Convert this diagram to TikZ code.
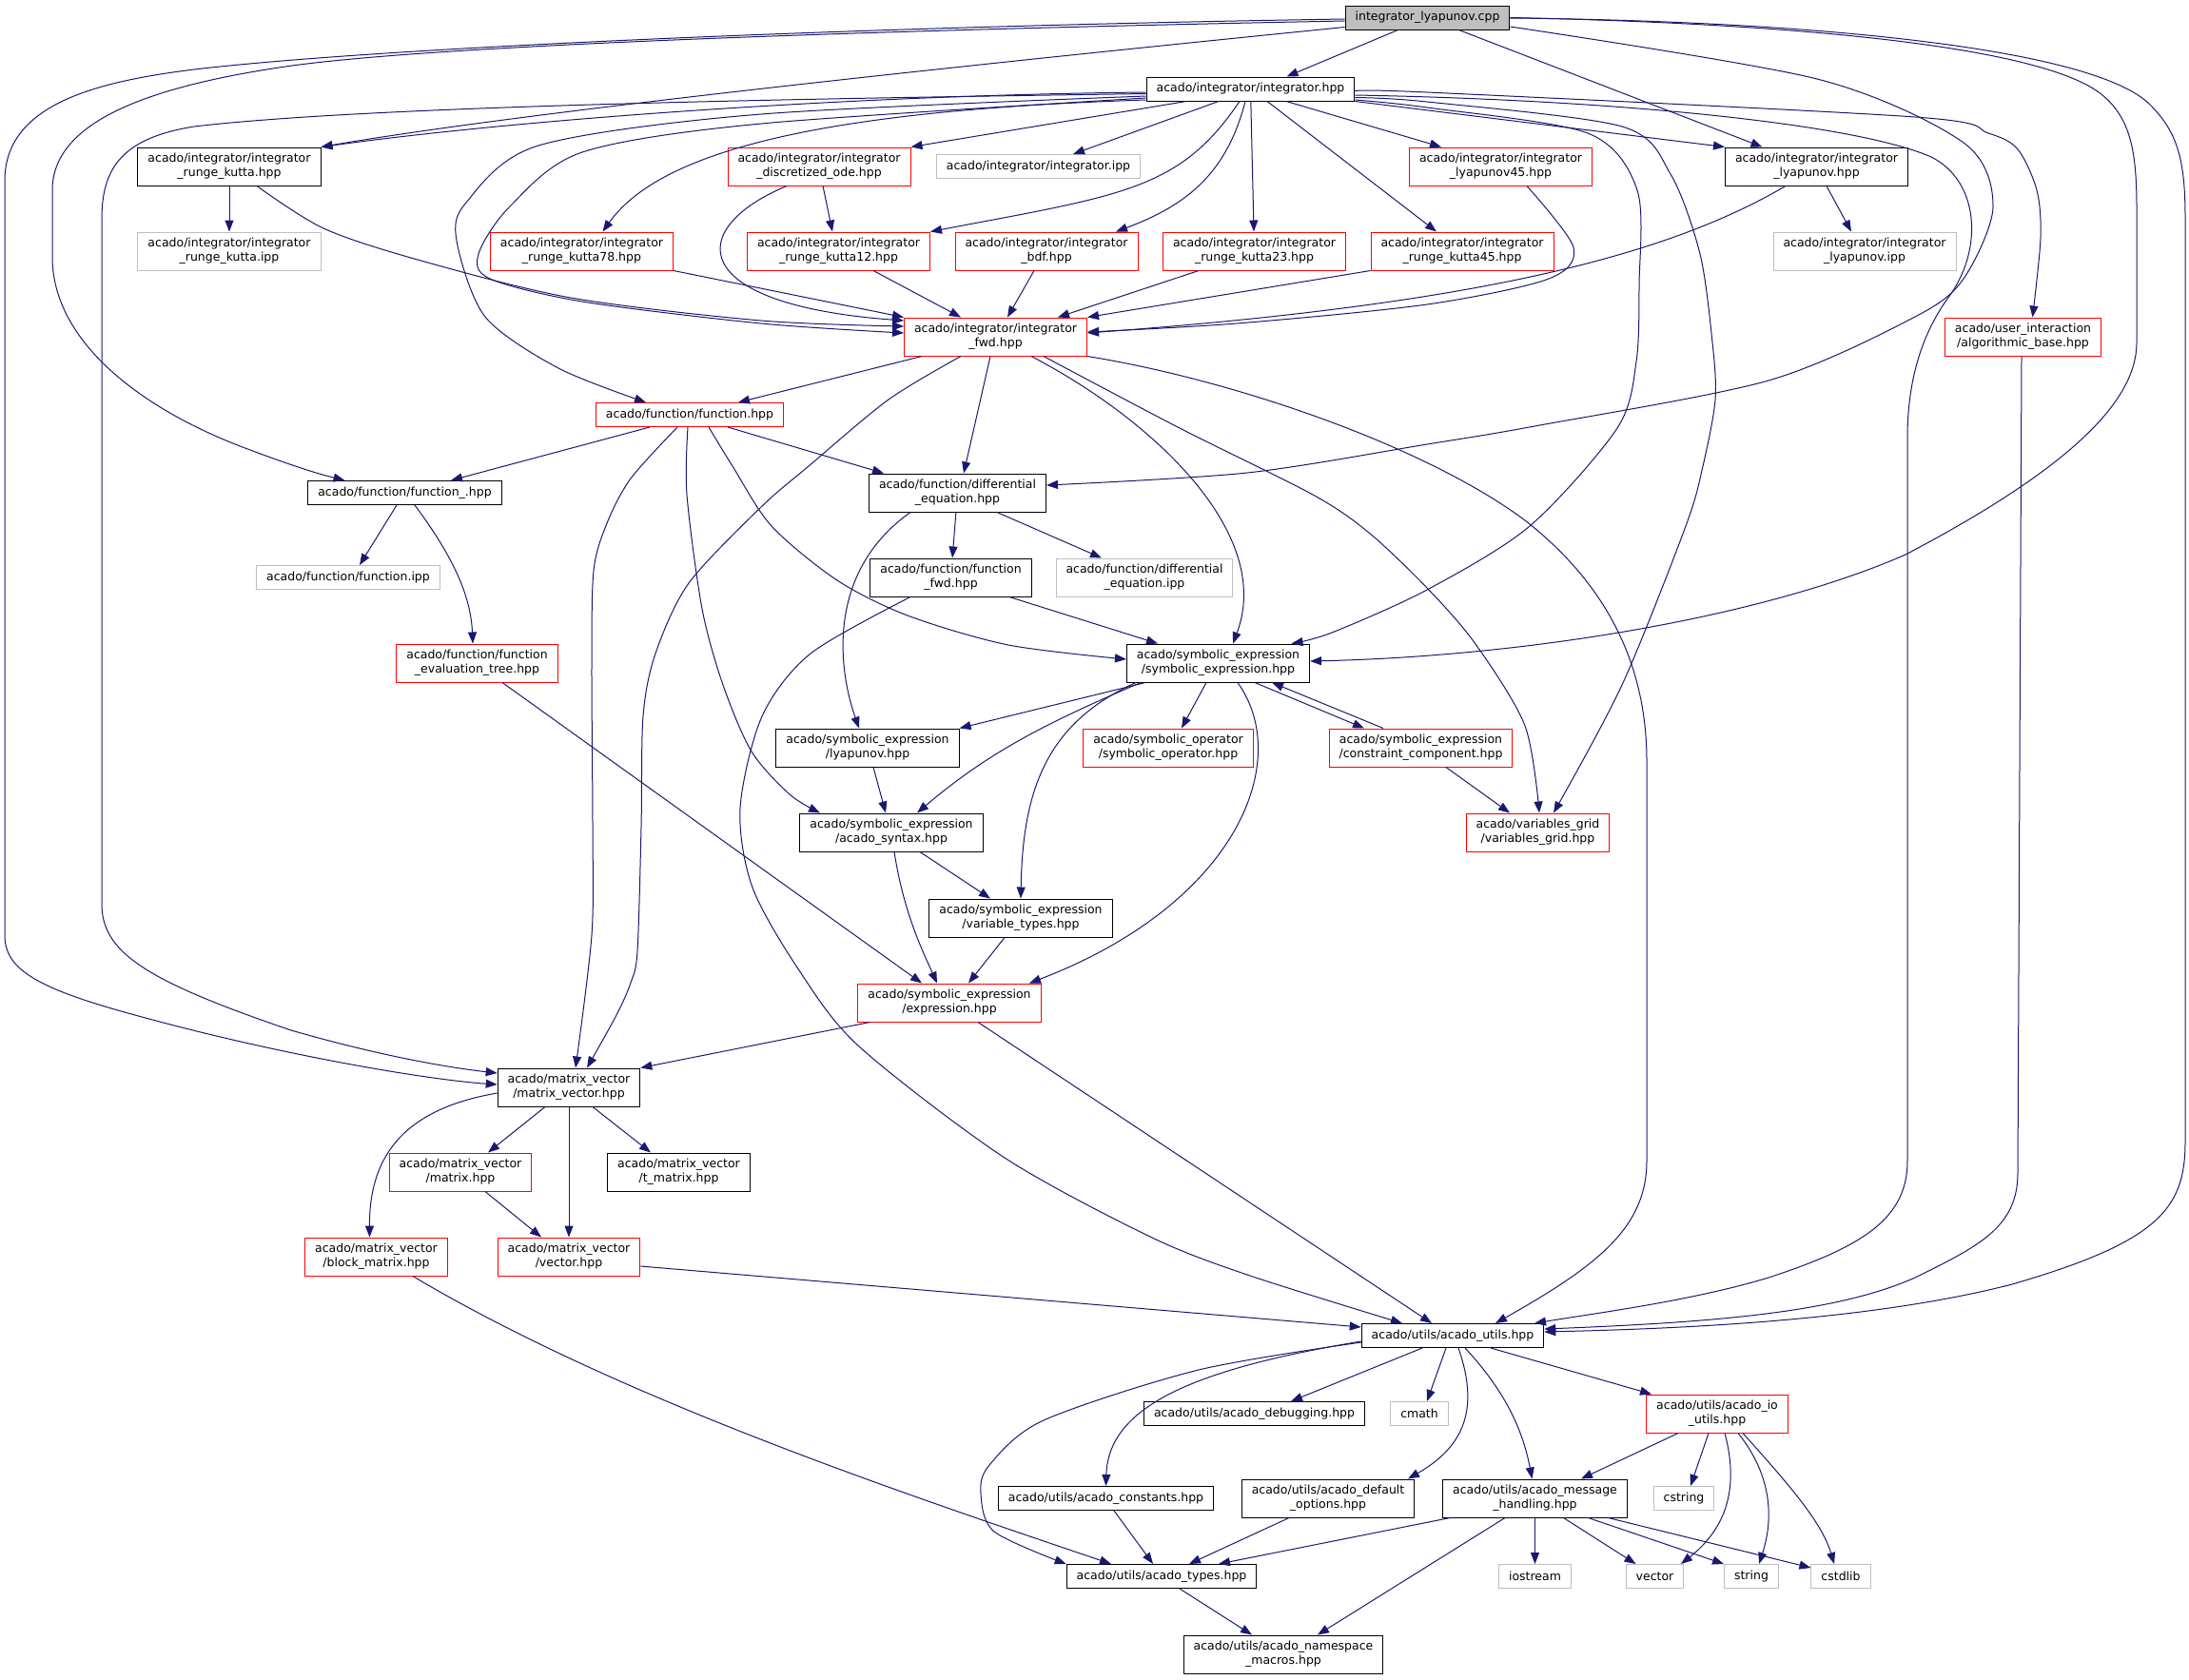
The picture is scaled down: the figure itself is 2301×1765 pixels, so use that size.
\documentclass[tikz,border=0pt]{standalone}
\usepackage{fontspec}
\setmainfont{DejaVu Sans}
\usetikzlibrary{arrows.meta}
\definecolor{edgeblue}{HTML}{191970}
\definecolor{graybox}{HTML}{BFBFBF}
\tikzset{
  box/.style={rectangle, draw, line width=1pt, align=center, font=\fontsize{12.5}{15}\selectfont, inner xsep=10.5pt, inner ysep=3pt, minimum height=25pt},
  two/.style={minimum height=40pt},
  hdr/.style={box, draw=black},
  trunc/.style={box, draw=red},
  ext/.style={box, draw=graybox},
  root/.style={box, draw=black, fill=graybox},
  dep/.style={draw=edgeblue, line width=1pt, -{Triangle[length=12pt,width=9pt]}}
}
\begin{document}
\begin{tikzpicture}[x=1pt,y=-1pt]
\useasboundingbox (0,0) rectangle (2301,1765);
% files
\node[root] (cpp) at (1500.5,18.5) {integrator\_lyapunov.cpp};
\node[hdr] (integ) at (1314.5,93.5) {acado/integrator/integrator.hpp};
\node[hdr,two] (rk) at (241,175) {acado/integrator/integrator\\\_runge\_kutta.hpp};
\node[trunc,two] (dode) at (861,175) {acado/integrator/integrator\\\_discretized\_ode.hpp};
\node[ext] (iipp) at (1091.5,175) {acado/integrator/integrator.ipp};
\node[trunc,two] (ly45) at (1577.5,175) {acado/integrator/integrator\\\_lyapunov45.hpp};
\node[hdr,two] (lyh) at (1909.5,175) {acado/integrator/integrator\\\_lyapunov.hpp};
\node[ext,two] (rkipp) at (241,264) {acado/integrator/integrator\\\_runge\_kutta.ipp};
\node[trunc,two] (rk78) at (611.5,264) {acado/integrator/integrator\\\_runge\_kutta78.hpp};
\node[trunc,two] (rk12) at (881.5,264) {acado/integrator/integrator\\\_runge\_kutta12.hpp};
\node[trunc,two] (bdf) at (1100,264) {acado/integrator/integrator\\\_bdf.hpp};
\node[trunc,two] (rk23) at (1318.5,264) {acado/integrator/integrator\\\_runge\_kutta23.hpp};
\node[trunc,two] (rk45) at (1537,264) {acado/integrator/integrator\\\_runge\_kutta45.hpp};
\node[ext,two] (lyipp) at (1960,264) {acado/integrator/integrator\\\_lyapunov.ipp};
\node[trunc,two] (ifwd) at (1046.5,354) {acado/integrator/integrator\\\_fwd.hpp};
\node[trunc,two] (algo) at (2126.5,354) {acado/user\_interaction\\/algorithmic\_base.hpp};
\node[trunc] (func) at (725,436) {acado/function/function.hpp};
\node[hdr] (funcu) at (425.5,518) {acado/function/function\_.hpp};
\node[hdr,two] (diffeq) at (1006.5,518) {acado/function/differential\\\_equation.hpp};
\node[ext] (fipp) at (366,607) {acado/function/function.ipp};
\node[hdr,two] (ffwd) at (999.5,607) {acado/function/function\\\_fwd.hpp};
\node[ext,two] (deipp) at (1203,607) {acado/function/differential\\\_equation.ipp};
\node[trunc,two] (fetree) at (501.5,697) {acado/function/function\\\_evaluation\_tree.hpp};
\node[hdr,two] (symexp) at (1280.5,697) {acado/symbolic\_expression\\/symbolic\_expression.hpp};
\node[hdr,two] (symly) at (912,786) {acado/symbolic\_expression\\/lyapunov.hpp};
\node[trunc,two] (symop) at (1228,786) {acado/symbolic\_operator\\/symbolic\_operator.hpp};
\node[trunc,two] (constr) at (1493.5,786) {acado/symbolic\_expression\\/constraint\_component.hpp};
\node[hdr,two] (syntax) at (937,875) {acado/symbolic\_expression\\/acado\_syntax.hpp};
\node[trunc,two] (vgrid) at (1616.5,875) {acado/variables\_grid\\/variables\_grid.hpp};
\node[hdr,two] (vartypes) at (1073,965) {acado/symbolic\_expression\\/variable\_types.hpp};
\node[trunc,two] (expr) at (998,1054) {acado/symbolic\_expression\\/expression.hpp};
\node[hdr,two] (mv) at (598,1143) {acado/matrix\_vector\\/matrix\_vector.hpp};
\node[trunc,two] (matrix) at (484,1232) {acado/matrix\_vector\\/matrix.hpp};
\node[hdr,two] (tmatrix) at (713.5,1232) {acado/matrix\_vector\\/t\_matrix.hpp};
\node[trunc,two] (block) at (395.5,1321) {acado/matrix\_vector\\/block\_matrix.hpp};
\node[trunc,two] (vector) at (598,1321) {acado/matrix\_vector\\/vector.hpp};
\node[hdr] (utils) at (1527,1404) {acado/utils/acado\_utils.hpp};
\node[hdr] (debug) at (1318.5,1486) {acado/utils/acado\_debugging.hpp};
\node[ext] (cmath) at (1492,1486) {cmath};
\node[trunc,two] (io) at (1805,1486) {acado/utils/acado\_io\\\_utils.hpp};
\node[hdr] (consts) at (1162.5,1575) {acado/utils/acado\_constants.hpp};
\node[hdr,two] (defopt) at (1396,1575) {acado/utils/acado\_default\\\_options.hpp};
\node[hdr,two] (msg) at (1613.5,1575) {acado/utils/acado\_message\\\_handling.hpp};
\node[ext] (cstring) at (1770,1575) {cstring};
\node[hdr] (types) at (1221,1657) {acado/utils/acado\_types.hpp};
\node[ext] (iostream) at (1613.5,1657) {iostream};
\node[ext] (vec) at (1739.5,1657) {vector};
\node[ext] (str) at (1841,1657) {string};
\node[ext] (cstdlib) at (1935,1657) {cstdlib};
\node[hdr,two] (nsmacros) at (1349,1739) {acado/utils/acado\_namespace\\\_macros.hpp};
% includes of the source file
\draw[dep] ([xshift=-31pt]cpp.south) -- ([xshift=38pt]integ.north);
\draw[dep] ([yshift=-10pt]cpp.west) .. controls (1000,70) and (550,118) .. (rk.north east);
\draw[dep] ([yshift=-3.5pt]cpp.west) .. controls (900,32) and (450,48) .. (300,70) .. controls (150,92) and (55,130) .. (55,200) -- (55,270) .. controls (55,360) and (150,430) .. (255,470) .. controls (300,487) and (330,497) .. ([xshift=-63pt]funcu.north);
\draw[dep] ([yshift=-1.5pt]cpp.west) .. controls (900,28) and (400,50) .. (204,73) .. controls (100,86) and (5,110) .. (5,190) -- (5,983) .. controls (5,1020) and (40,1040) .. (153,1070) .. controls (300,1110) and (450,1135) .. ([yshift=3pt]mv.west);
\draw[dep] ([xshift=33pt]cpp.south) -- ([xshift=-57pt]lyh.north);
\draw[dep] plot[smooth,tension=.5] coordinates {([yshift=-9.5pt]cpp.east) (1910,83) (2064,150) (2095,217) (2064,293) (2013,333) (1859,400) (1613,448) (1500,467) (1311,497) ([yshift=8pt]diffeq.east)};
\draw[dep] (cpp.east) .. controls (1900,25) and (2150,50) .. (2210,100) .. controls (2240,125) and (2246,160) .. (2246,220) -- (2246,360) .. controls (2246,420) and (2180,490) .. (2003,583) .. controls (1850,650) and (1600,690) .. ([yshift=2pt]symexp.east);
\draw[dep] ([yshift=-0.5pt]cpp.east) .. controls (1900,22) and (2200,50) .. (2260,110) .. controls (2290,140) and (2297,170) .. (2297,230) -- (2297,1200) .. controls (2297,1270) and (2270,1305) .. (2115,1350) .. controls (1960,1390) and (1750,1397) .. ([yshift=4pt]utils.east);
% integrator.hpp
\draw[dep] ([yshift=-3.5pt]integ.west) .. controls (900,100) and (550,125) .. (rk.north east);
\draw[dep] ([yshift=-5pt]integ.west) .. controls (900,103) and (400,110) .. (204,133) .. controls (130,145) and (107,175) .. (107,230) -- (107,950) .. controls (107,1000) and (150,1030) .. (306,1083) .. controls (400,1110) and (470,1122) .. ([yshift=15pt]mv.west);
\draw[dep] plot[smooth,tension=.5] coordinates {([yshift=-7.5pt]integ.west) (800,120) (566,153) (490,213) (480,253) (510,333) (587,387) ([xshift=-46pt]func.north)};
\draw[dep] plot[smooth,tension=.5] coordinates {([yshift=-9.5pt]integ.west) (800,130) (612,160) (536,217) (503,267) (515,293) (612,317) (800,340) ([yshift=4pt]ifwd.west)};
\draw[dep] ([yshift=-11.5pt]integ.west) .. controls (900,115) and (700,150) .. ([xshift=22pt]rk78.north);
\draw[dep] ([xshift=-67.5pt]integ.south) -- (dode.north east);
\draw[dep] ([xshift=-33.5pt]integ.south) -- ([xshift=36.5pt]iipp.north);
\draw[dep] ([xshift=-11.5pt]integ.south) .. controls (1240,200) and (1180,205) .. (rk12.north east);
\draw[dep] ([xshift=-5.5pt]integ.south) .. controls (1290,180) and (1250,215) .. ([xshift=73pt]bdf.north);
\draw[dep] (integ) -- (rk23);
\draw[dep] ([xshift=17.5pt]integ.south) -- ([xshift=-27pt]rk45.north);
\draw[dep] ([xshift=37.5pt]integ.south) -- ([xshift=-62.5pt]ly45.north);
\draw[dep] (integ.south east) -- (lyh.north west);
\draw[dep] plot[smooth,tension=.5] coordinates {([yshift=-2.5pt]integ.east) (1500,97) (2013,123) (2090,140) (2121,157) (2141,200) (2145,250) ([xshift=10pt]algo.north)};
\draw[dep] ([yshift=-6.5pt]integ.east) .. controls (1700,105) and (1950,130) .. (2030,165) .. controls (2080,190) and (2085,260) .. (2050,310) .. controls (2020,350) and (2005,400) .. (2005,460) -- (2005,1220) .. controls (2005,1280) and (1960,1310) .. (1859,1343) .. controls (1780,1367) and (1680,1380) .. ([xshift=86pt]utils.north);
\draw[dep] plot[smooth,tension=.5] coordinates {([yshift=-9pt]integ.east) (1500,107) (1705,133) (1756,183) (1787,267) (1800,360) (1803,420) (1790,490) (1772,553) (1705,720) ([xshift=16.5pt]vgrid.north)};
\draw[dep] plot[smooth,tension=.5] coordinates {([yshift=-11.5pt]integ.east) (1500,113) (1669,140) (1721,200) (1723,300) (1720,380) (1700,450) (1608,553) (1500,620) (1400,665) ([xshift=77pt]symexp.north)};
% integrator headers into integrator_fwd
\draw[dep] (rk) -- (rkipp);
\draw[dep] ([xshift=4pt]dode.south) -- ([xshift=-6.5pt]rk12.north);
\draw[dep] plot[smooth,tension=.5] coordinates {([xshift=29pt]rk.south) (340,240) (439,273) (600,313) (800,337) ([yshift=11pt]ifwd.west)};
\draw[dep] (rk78.south east) -- (ifwd.north west);
\draw[dep] ([xshift=-34pt]dode.south) .. controls (720,240) and (720,320) .. ([yshift=17pt]ifwd.west);
\draw[dep] ([xshift=36.5pt]rk12.south) -- ([xshift=-36.5pt]ifwd.north);
\draw[dep] ([xshift=-13pt]bdf.south) -- ([xshift=12.5pt]ifwd.north);
\draw[dep] ([xshift=-58.5pt]rk23.south) -- ([xshift=65.5pt]ifwd.north);
\draw[dep] (rk45.south west) -- (ifwd.north east);
\draw[dep] plot[smooth,tension=.5] coordinates {([xshift=27.5pt]ly45.south) (1654,260) (1628,293) (1500,320) (1300,340) ([yshift=5pt]ifwd.east)};
\draw[dep] ([xshift=-32.5pt]lyh.south) .. controls (1750,270) and (1550,320) .. ([yshift=4pt]ifwd.east);
\draw[dep] ([xshift=10.5pt]lyh.south) -- ([xshift=-14pt]lyipp.north);
% integrator_fwd.hpp
\draw[dep] ([xshift=-77.5pt]ifwd.south) -- ([xshift=51pt]func.north);
\draw[dep] plot[smooth,tension=.5] coordinates {([xshift=-36.5pt]ifwd.south) (934,420) (850,490) (800,533) (724,613) (689,687) (676,753) (674,870) (670,1000) (663,1033) (648,1067) ([xshift=19pt]mv.north)};
\draw[dep] ([xshift=-5.5pt]ifwd.south) -- ([xshift=6.5pt]diffeq.north);
\draw[dep] ([xshift=37.5pt]ifwd.south) .. controls (1210,440) and (1340,560) .. ([xshift=15.5pt]symexp.north);
\draw[dep] plot[smooth,tension=.5] coordinates {([xshift=50.5pt]ifwd.south) (1240,450) (1380,520) (1439,560) (1500,618) (1551,677) (1603,763) ([xshift=1.5pt]vgrid.north)};
\draw[dep] (ifwd.south east) .. controls (1300,400) and (1500,470) .. (1603,547) .. controls (1690,615) and (1731,700) .. (1731,800) -- (1731,1220) .. controls (1731,1290) and (1680,1330) .. ([xshift=45pt]utils.north);
\draw[dep] ([xshift=-1.5pt]algo.south) -- (2121,1233) .. controls (2121,1290) and (2080,1310) .. (2013,1343) .. controls (1930,1380) and (1800,1390) .. ([yshift=7pt]utils.east);
% function.hpp
\draw[dep] ([xshift=-42pt]func.south) -- ([xshift=48.5pt]funcu.north);
\draw[dep] ([xshift=40pt]func.south) -- ([xshift=16pt]diffeq.north west);
\draw[dep] plot[smooth,tension=.5] coordinates {([xshift=-13pt]func.south) (663,503) (638,550) (624,600) (622,700) (623,870) (622,983) ([xshift=7pt]mv.north)};
\draw[dep] plot[smooth,tension=.5] coordinates {([xshift=-2pt]func.south) (722,520) (738,640) (760,720) (790,790) (830,835) ([xshift=-75pt]syntax.north)};
\draw[dep] plot[smooth,tension=.5] coordinates {([xshift=20pt]func.south) (770,490) (811,553) (880,610) (954,647) (1060,678) ([yshift=4pt]symexp.west)};
\draw[dep] ([xshift=-8.5pt]funcu.south) -- ([xshift=12pt]fipp.north);
\draw[dep] ([xshift=10.5pt]funcu.south) .. controls (480,590) and (495,630) .. ([xshift=-4.5pt]fetree.north);
\draw[dep] ([xshift=26.5pt]fetree.south) -- ([xshift=-29pt]expr.north);
% differential equation and function_fwd
\draw[dep] (diffeq) -- (ffwd);
\draw[dep] ([xshift=41.5pt]diffeq.south) -- ([xshift=-45pt]deipp.north);
\draw[dep] ([xshift=-49.5pt]diffeq.south) .. controls (870,600) and (880,700) .. ([xshift=-9pt]symly.north);
\draw[dep] ([xshift=61.5pt]ffwd.south) -- ([xshift=-63.5pt]symexp.north);
\draw[dep] plot[smooth,tension=.5] coordinates {([xshift=-42.5pt]ffwd.south) (852,687) (801,753) (778,850) (791,933) (840,1020) (903,1100) (1056,1217) (1209,1300) (1311,1340) ([xshift=-53pt]utils.north)};
% symbolic expression
\draw[dep] ([xshift=-76.5pt]symexp.south) -- (symly.north east);
\draw[dep] ([xshift=-81.5pt]symexp.south) .. controls (1100,760) and (1040,790) .. ([xshift=27pt]syntax.north);
\draw[dep] ([xshift=-86.5pt]symexp.south) .. controls (1100,760) and (1075,830) .. (vartypes.north);
\draw[dep] ([xshift=-12.5pt]symexp.south) -- ([xshift=14pt]symop.north);
\draw[dep] ([xshift=38.5pt]symexp.south) -- ([xshift=-59.5pt]constr.north);
\draw[dep] ([xshift=-39.5pt]constr.north) -- ([xshift=56.5pt]symexp.south);
\draw[dep] ([xshift=20.5pt]symexp.south) .. controls (1360,800) and (1300,950) .. ([xshift=84pt]expr.north);
\draw[dep] ([xshift=26.5pt]constr.south) -- ([xshift=-29.5pt]vgrid.north);
\draw[dep] ([xshift=6pt]symly.south) -- ([xshift=-6pt]syntax.north);
\draw[dep] ([xshift=30pt]syntax.south) -- ([xshift=-32pt]vartypes.north);
\draw[dep] ([xshift=3pt]syntax.south) .. controls (950,960) and (970,1000) .. ([xshift=-13pt]expr.north);
\draw[dep] ([xshift=-17pt]vartypes.south) -- ([xshift=20pt]expr.north);
\draw[dep] ([xshift=13pt]expr.south west) -- (mv.north east);
\draw[dep] ([xshift=30pt]expr.south) -- ([xshift=-22pt]utils.north);
% matrix_vector
\draw[dep] ([yshift=-6pt]mv.west) .. controls (430,1165) and (388,1210) .. ([xshift=-7pt]block.north);
\draw[dep] ([xshift=-25pt]mv.south) -- ([xshift=29pt]matrix.north);
\draw[dep] (mv.south) -- (vector.north);
\draw[dep] ([xshift=25pt]mv.south) -- ([xshift=-29.5pt]tmatrix.north);
\draw[dep] ([xshift=26pt]matrix.south) -- ([xshift=-29pt]vector.north);
\draw[dep] ([xshift=38.5pt]block.south) .. controls (650,1470) and (950,1570) .. ([xshift=-53pt]types.north);
\draw[dep] ([yshift=-10pt]vector.east) -- ([yshift=9pt]utils.west);
% acado_utils
\draw[dep] ([xshift=-32pt]utils.south) -- ([xshift=38.5pt]debug.north);
\draw[dep] ([xshift=-7pt]utils.south) -- ([xshift=8pt]cmath.north);
\draw[dep] ([xshift=6pt]utils.south) .. controls (1555,1480) and (1540,1520) .. ([xshift=84pt]defopt.north);
\draw[dep] ([xshift=13pt]utils.south) .. controls (1580,1460) and (1600,1500) .. ([xshift=-3pt]msg.north);
\draw[dep] ([xshift=40pt]utils.south) -- ([xshift=-69pt]io.north);
\draw[dep] ([yshift=-6pt]utils.west) .. controls (1250,1440) and (1165,1480) .. (consts.north);
\draw[dep] plot[smooth,tension=.5] coordinates {([yshift=-7pt]utils.west) (1260,1440) (1097,1493) (1040,1540) (1031,1570) (1045,1610) (types.north west)};
\draw[dep] ([xshift=-41pt]io.south) -- ([xshift=48.5pt]msg.north);
\draw[dep] ([xshift=-9pt]io.south) -- ([xshift=7pt]cstring.north);
\draw[dep] ([xshift=8pt]io.south) .. controls (1830,1570) and (1810,1610) .. ([xshift=27.5pt]vec.north);
\draw[dep] ([xshift=22pt]io.south) .. controls (1870,1560) and (1860,1610) .. ([xshift=8pt]str.north);
\draw[dep] ([xshift=27pt]io.south) .. controls (1880,1560) and (1915,1600) .. ([xshift=-7pt]cstdlib.north);
\draw[dep] ([xshift=8pt]msg.south west) -- ([xshift=60pt]types.north);
\draw[dep] ([xshift=-31.5pt]msg.south) -- ([xshift=36pt]nsmacros.north);
\draw[dep] (msg.south) -- (iostream.north);
\draw[dep] ([xshift=30pt]msg.south) -- ([xshift=-20pt]vec.north);
\draw[dep] ([xshift=56pt]msg.south) -- (str.north west);
\draw[dep] ([xshift=77pt]msg.south) -- ([yshift=9pt]cstdlib.west);
\draw[dep] ([xshift=8.5pt]consts.south) -- ([xshift=-9pt]types.north);
\draw[dep] ([xshift=-41pt]defopt.south) -- ([xshift=29pt]types.north);
\draw[dep] ([xshift=19pt]types.south) -- ([xshift=-33pt]nsmacros.north);
\end{tikzpicture}
\end{document}
